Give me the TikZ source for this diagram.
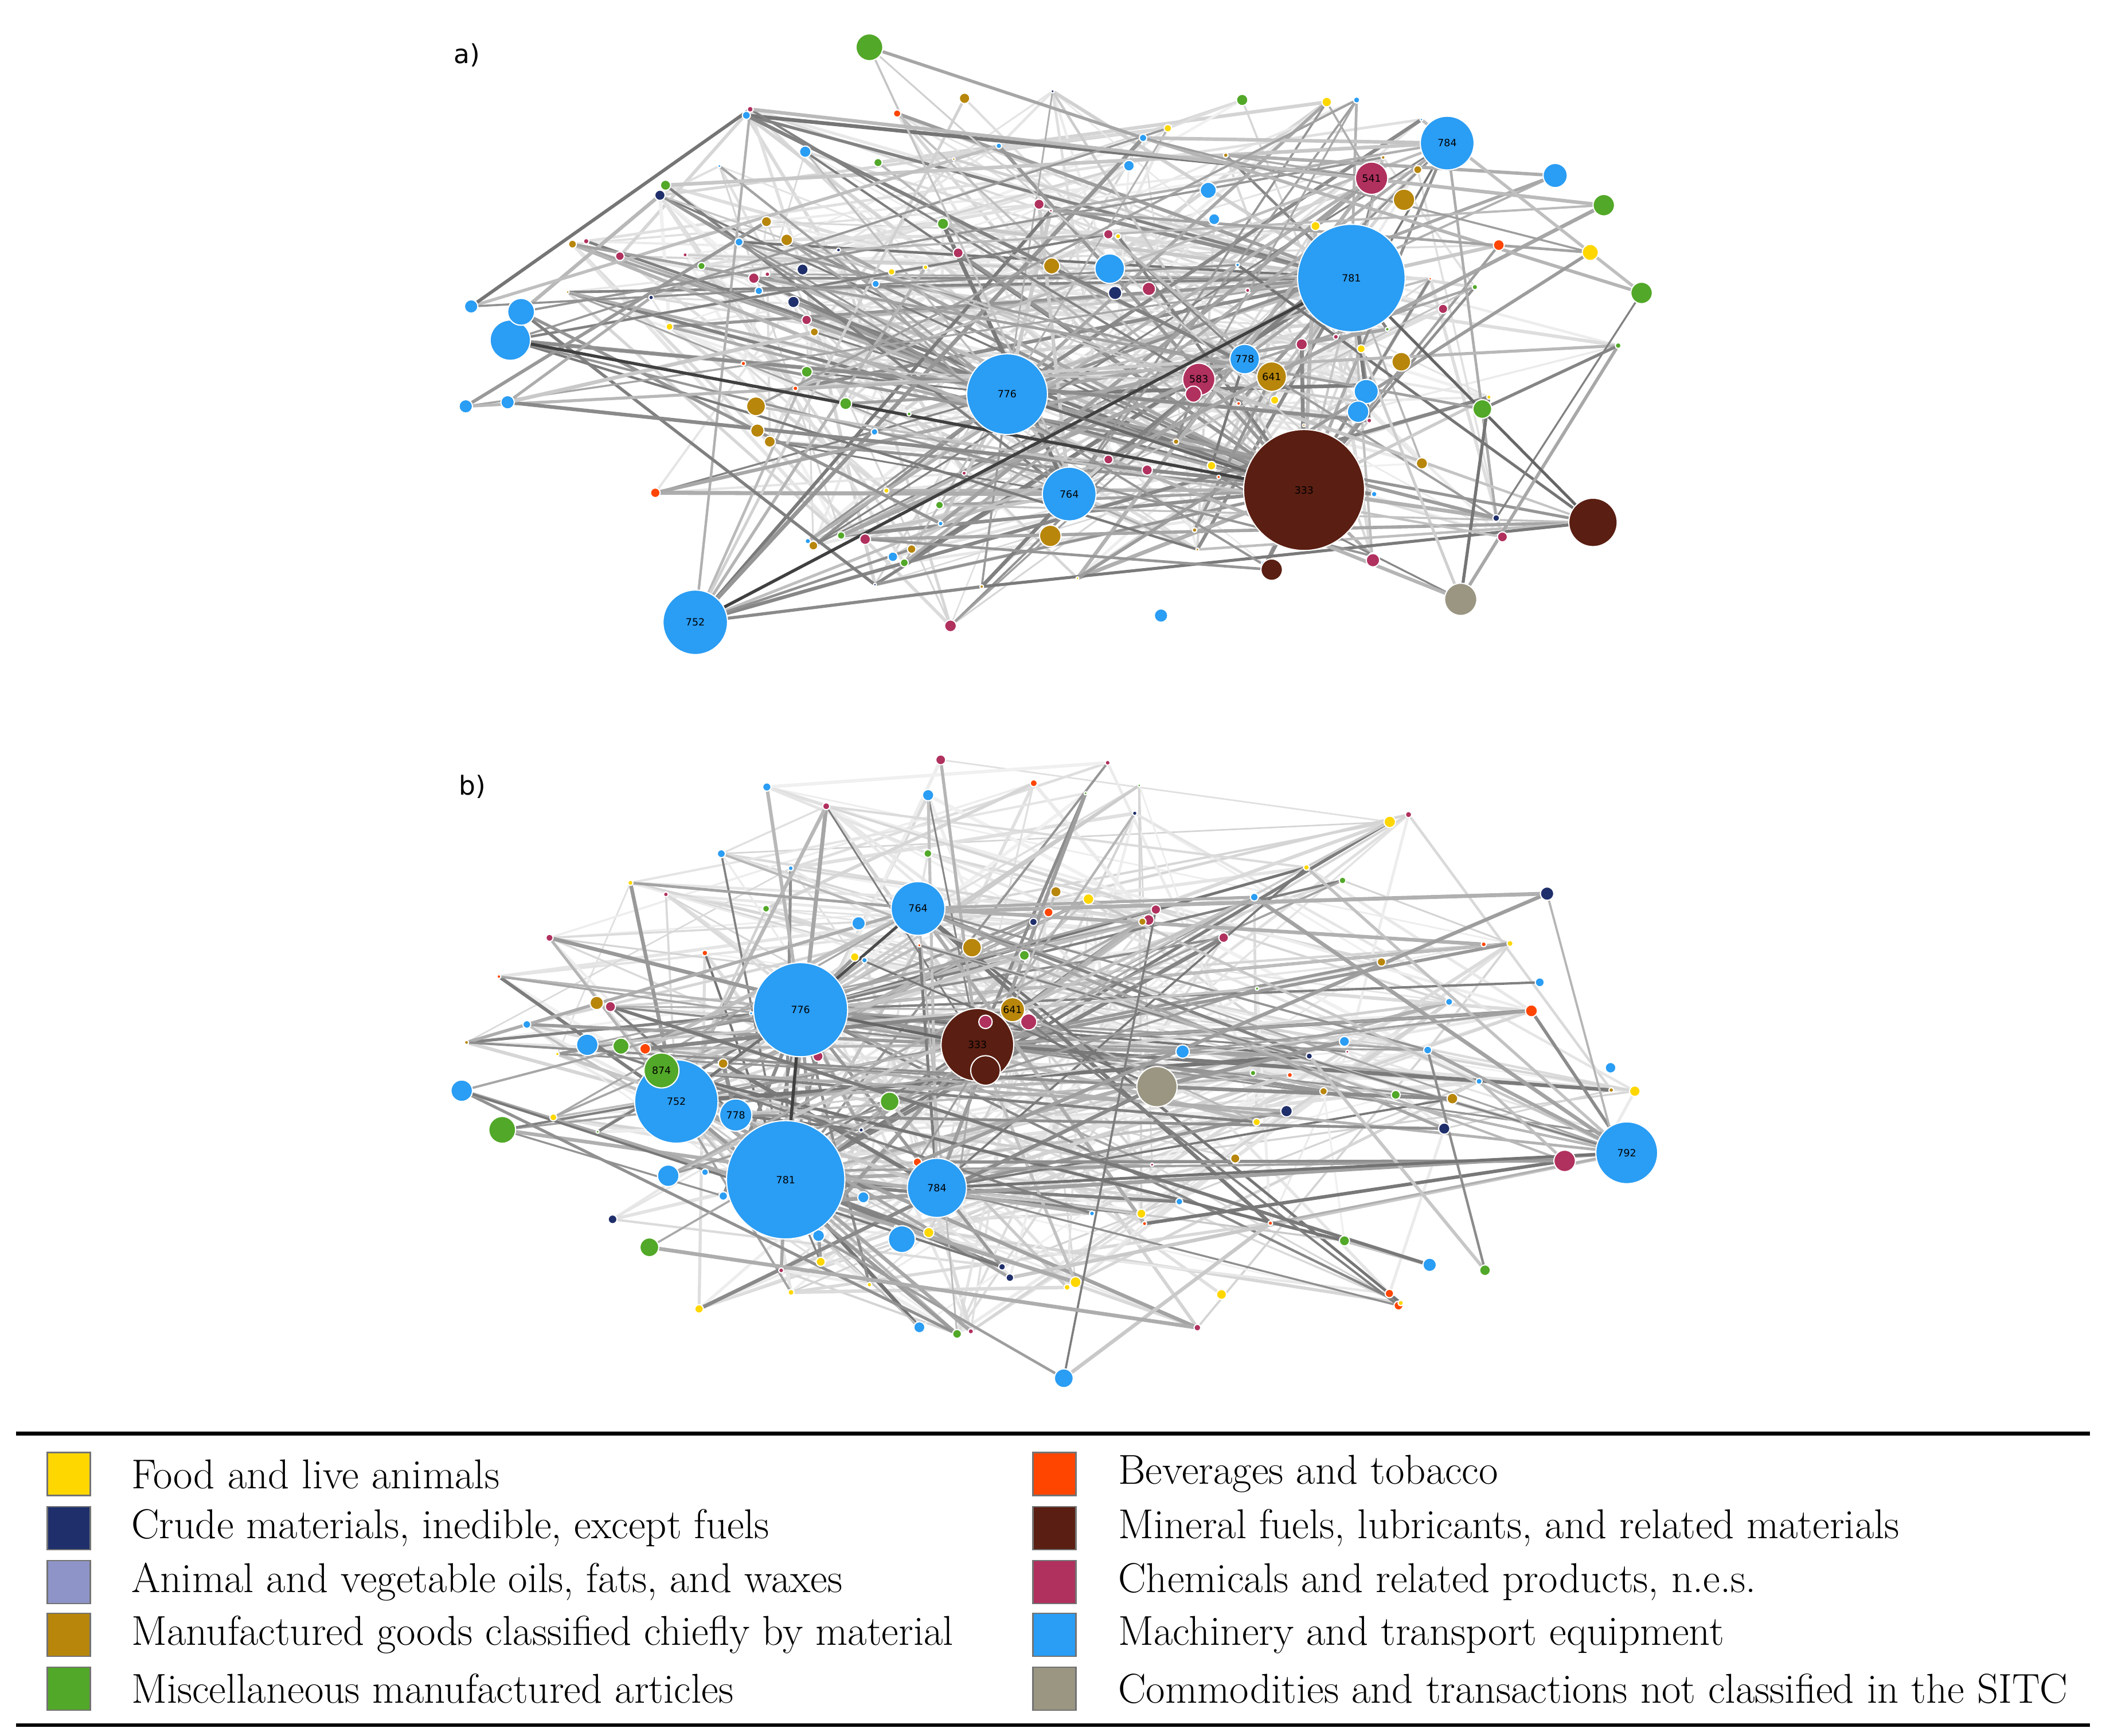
\documentclass[tikz,border=0pt]{standalone}
\usepackage{fontspec}
\newfontfamily\lblfont{DejaVu Sans}
\pgfdeclarelayer{bg}\pgfsetlayers{bg,main}
\definecolor{food}{HTML}{FFD700}
\definecolor{bev}{HTML}{FF4500}
\definecolor{crude}{HTML}{1F2F6B}
\definecolor{animal}{HTML}{8E94C8}
\definecolor{manuf}{HTML}{B8860B}
\definecolor{misc}{HTML}{52A828}
\definecolor{mineral}{HTML}{5A1E12}
\definecolor{chem}{HTML}{B0305E}
\definecolor{mach}{HTML}{2A9DF4}
\definecolor{comm}{HTML}{9A9682}
\tikzset{
 bub/.style={circle,draw=white,line width=0.5pt,inner sep=0pt,font=\lblfont\fontsize{4.2}{4.2}\selectfont},
 edge/.style={line cap=round},
 leg/.style={draw=black!55,line width=0.6pt,minimum size=32*0.567pt,inner sep=0pt},
 legtxt/.style={anchor=west,inner sep=0pt,font=\fontsize{17.6}{20}\selectfont},
 plabel/.style={font=\lblfont\fontsize{11}{11}\selectfont}
}
\newcommand\bn[6]{\node[bub,fill=#5,minimum size=#4*1.134pt] (#1) at (#2,#3) {#6};}
\begin{document}
\begin{tikzpicture}[x=0.02cm,y=-0.02cm]
\useasboundingbox (0,0) rectangle (1560,1286);
\begin{pgfonlayer}{bg}\fill[white] (0,0) rectangle (1560,1286);\end{pgfonlayer}
\node[plabel] (la) at (346,41) {a)};
\node[plabel] (lb) at (350,583) {b)};
\pgfmathsetseed{11}
% ---------- panel a small nodes
\foreach \i in {1,...,110}{
 \pgfmathsetmacro\ang{rnd*360}
 \pgfmathsetmacro\rr{0.35+0.65*rnd}
 \pgfmathsetmacro\px{790+445*\rr*cos(\ang)}
 \pgfmathsetmacro\py{255+215*\rr*sin(\ang)}
 \pgfmathsetmacro\sz{2+rnd*7}
 \pgfmathrandominteger{\c}{0}{11}
 \pgfmathparse{{"mach","manuf","chem","food","misc","crude","mach","manuf","chem","misc","food","bev"}[\c]}
 \let\col\pgfmathresult
 \node[bub,fill=\col,minimum size=\sz*0.567pt] (as\i) at (\px,\py) {};
}
% ---------- panel b small nodes
\foreach \i in {1,...,110}{
 \pgfmathsetmacro\ang{rnd*360}
 \pgfmathsetmacro\rr{0.35+0.65*rnd}
 \pgfmathsetmacro\px{770+450*\rr*cos(\ang)}
 \pgfmathsetmacro\py{790+235*\rr*sin(\ang)}
 \pgfmathsetmacro\sz{2+rnd*7}
 \pgfmathrandominteger{\c}{0}{11}
 \pgfmathparse{{"mach","manuf","chem","food","misc","crude","mach","manuf","chem","misc","food","bev"}[\c]}
 \let\col\pgfmathresult
 \node[bub,fill=\col,minimum size=\sz*0.567pt] (bs\i) at (\px,\py) {};
}
% ---------- panel a big nodes
\bn{a781}{1001}{206}{40}{mach}{781}
\bn{a333}{966}{363}{45}{mineral}{333}
\bn{a776}{746}{292}{30}{mach}{776}
\bn{a764}{792}{366}{20}{mach}{764}
\bn{a752}{515}{461}{24}{mach}{752}
\bn{a784}{1072}{106}{20}{mach}{784}
\bn{a541}{1016}{132}{12}{chem}{541}
\bn{a583}{888}{281}{12}{chem}{583}
\bn{a778}{922}{266}{11}{mach}{778}
\bn{a641}{942}{279}{11}{manuf}{641}
\bn{a1}{1180}{387}{18}{mineral}{}
\bn{a2}{1082}{444}{12}{comm}{}
\bn{a3}{378}{252}{15}{mach}{}
\bn{a4}{386}{231}{10}{mach}{}
\bn{a5}{349}{227}{5}{mach}{}
\bn{a6}{345}{301}{5}{mach}{}
\bn{a7}{376}{298}{5}{mach}{}
\bn{a8}{644}{35}{10}{misc}{}
\bn{a9}{822}{199}{11}{mach}{}
\bn{a10}{1152}{130}{9}{mach}{}
\bn{a11}{1188}{152}{8}{misc}{}
\bn{a12}{1216}{217}{8}{misc}{}
\bn{a13}{1178}{187}{6}{food}{}
\bn{a14}{560}{301}{7}{manuf}{}
\bn{a15}{561}{319}{5}{manuf}{}
\bn{a16}{778}{397}{8}{manuf}{}
\bn{a17}{942}{422}{8}{mineral}{}
\bn{a18}{1040}{148}{8}{manuf}{}
\bn{a19}{1038}{268}{7}{manuf}{}
\bn{a20}{1012}{290}{9}{mach}{}
\bn{a21}{1006}{305}{8}{mach}{}
\bn{a22}{1098}{303}{7}{misc}{}
\bn{a23}{1017}{415}{5}{chem}{}
\bn{a24}{884}{292}{6}{chem}{}
\bn{a25}{779}{197}{6}{manuf}{}
\bn{a26}{851}{214}{5}{chem}{}
\bn{a27}{826}{217}{5}{crude}{}
\bn{a28}{895}{141}{6}{mach}{}
\bn{a29}{860}{456}{5}{mach}{}
% ---------- panel b big nodes
\bn{b781}{582}{874}{44}{mach}{781}
\bn{b776}{593}{748}{35}{mach}{776}
\bn{b752}{501}{816}{31}{mach}{752}
\bn{b333}{724}{774}{27}{mineral}{333}
\bn{b1}{730}{793}{11}{mineral}{}
\bn{b764}{680}{673}{20}{mach}{764}
\bn{b784}{694}{880}{22}{mach}{784}
\bn{b792}{1205}{854}{23}{mach}{792}
\bn{b778}{545}{826}{12}{mach}{778}
\bn{b874}{490}{793}{13}{misc}{874}
\bn{b641}{750}{748}{9}{manuf}{641}
\bn{b2}{857}{805}{15}{comm}{}
\bn{b3}{1159}{860}{8}{chem}{}
\bn{b4}{372}{837}{10}{misc}{}
\bn{b5}{342}{808}{8}{mach}{}
\bn{b6}{435}{774}{8}{mach}{}
\bn{b7}{495}{871}{8}{mach}{}
\bn{b8}{668}{918}{10}{mach}{}
\bn{b9}{788}{1021}{7}{mach}{}
\bn{b10}{1146}{662}{5}{crude}{}
\bn{b11}{659}{816}{7}{misc}{}
\bn{b12}{720}{702}{7}{manuf}{}
\bn{b13}{762}{757}{6}{chem}{}
\bn{b14}{730}{757}{5}{chem}{}
\bn{b15}{481}{924}{7}{misc}{}
\bn{b16}{876}{779}{5}{mach}{}
\bn{b17}{460}{775}{6}{misc}{}
\bn{b18}{442}{743}{5}{manuf}{}
\bn{b19}{636}{684}{5}{mach}{}
\bn{b20}{1193}{791}{4}{mach}{}
\bn{b21}{1059}{937}{5}{mach}{}
\bn{b22}{1100}{941}{4}{misc}{}
% ---------- edges
\begin{pgfonlayer}{bg}
\foreach \p in {as,bs}{
 \foreach \j in {1,...,220}{
  \pgfmathrandominteger{\t}{1}{110}
  \pgfmathrandominteger{\u}{1}{110}
  \pgfmathtruncatemacro\g{6+rnd*12}
  \pgfmathsetmacro\w{0.6+rnd*0.9}
  \draw[edge,black!\g,line width=\w pt] (\p\t) -- (\p\u);
 }}
\foreach \h/\p/\k in {a781/as/45,a333/as/45,a776/as/30,a764/as/15,a752/as/10,a784/as/12,a541/as/8,a583/as/8,a778/as/6,a641/as/6,a1/as/8,a3/as/8,a2/as/5,
  a4/as/4,a5/as/3,a6/as/3,a7/as/3,a8/as/3,a10/as/3,a11/as/3,a12/as/3,a13/as/3,a14/as/2,a17/as/2,a22/as/2,
  b781/bs/40,b776/bs/40,b752/bs/20,b333/bs/30,b764/bs/15,b784/bs/15,b792/bs/14,b778/bs/6,b874/bs/8,b641/bs/6,b2/bs/6,b3/bs/5,
  b4/bs/4,b5/bs/4,b6/bs/3,b7/bs/3,b9/bs/3,b10/bs/3,b15/bs/2,b21/bs/2,b22/bs/2}{
 \foreach \j in {1,...,\k}{
  \pgfmathrandominteger{\t}{1}{110}
  \pgfmathtruncatemacro\g{18+rnd*37}
  \pgfmathsetmacro\w{0.7+rnd*1.0}
  \draw[edge,black!\g,line width=\w pt] (\h) -- (\p\t);
 }}
\draw[edge,black!75,line width=1.3pt] (a752) -- (a781);
\draw[edge,black!75,line width=1.3pt] (a3) -- (a333);
\draw[edge,black!60,line width=1.2pt] (a776) -- (a333);
\draw[edge,black!60,line width=1.2pt] (a1) -- (a781);
\draw[edge,black!75,line width=1.3pt] (b781) -- (b776);
\draw[edge,black!70,line width=1.2pt] (b776) -- (b764);
\draw[edge,black!60,line width=1.2pt] (b776) -- (b333);
\draw[edge,black!55,line width=1.2pt] (b792) -- (b784);
\draw[edge,black!55,line width=1.2pt] (b752) -- (b776);
\end{pgfonlayer}
% ---------- legend
\draw[line width=1.6pt] (12,1062) coordinate (l1) -- (1548,1062) coordinate (l2);
\draw[line width=1.6pt] (12,1278) coordinate (l3) -- (1548,1278) coordinate (l4);
\foreach \y/\ca/\ta/\cb/\tb [count=\r] in {
 1092/food/{Food and live animals}/bev/{Beverages and tobacco},
 1132/crude/{Crude materials, inedible, except fuels}/mineral/{Mineral fuels, lubricants, and related materials},
 1172/animal/{Animal and vegetable oils, fats, and waxes}/chem/{Chemicals and related products, n.e.s.},
 1211/manuf/{Manufactured goods classified chiefly by material}/mach/{Machinery and transport equipment},
 1251/misc/{Miscellaneous manufactured articles}/comm/{Commodities and transactions not classified in the SITC}}{
 \node[leg,fill=\ca] (sqa\r) at (51,\y) {};
 \node[legtxt] (ta\r) at (97,\y) {\ta};
 \node[leg,fill=\cb] (sqb\r) at (781,\y) {};
 \node[legtxt] (tb\r) at (828,\y) {\tb};
}
\end{tikzpicture}
\end{document}
